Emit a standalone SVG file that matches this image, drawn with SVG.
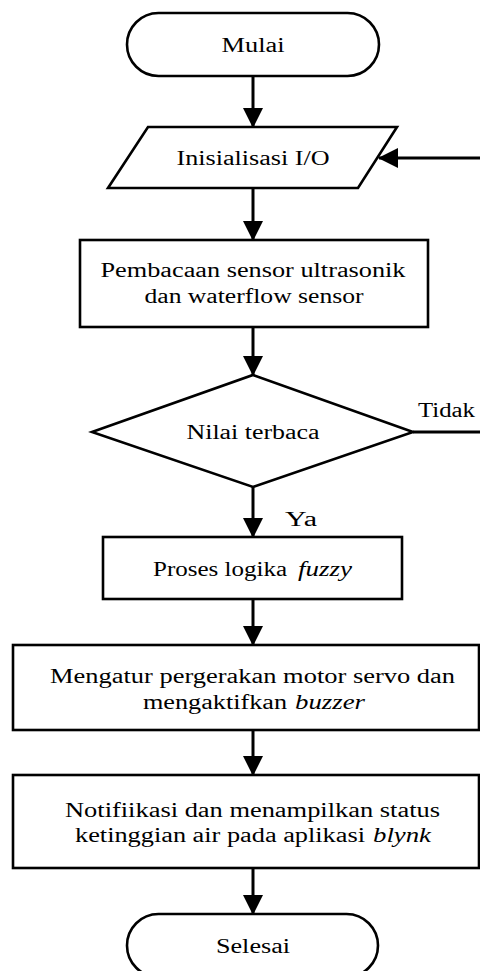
<svg xmlns="http://www.w3.org/2000/svg" width="480" height="971" viewBox="0 0 480 971" font-family="'Liberation Serif', 'Times New Roman', Times, serif">
<style>
.s{fill:#fff;stroke:#000;stroke-width:2.6}
.c{fill:none;stroke:#000;stroke-width:3}
text{font-family:'Liberation Serif','Times New Roman',Times,serif;font-size:20px;fill:#000}
.m{text-anchor:middle}
.i{font-style:italic}
</style>
<defs>
<marker id="ah" markerUnits="userSpaceOnUse" markerWidth="20" markerHeight="20" refX="19" refY="10" orient="auto">
<path d="M0,0 L20,10 L0,20 z" fill="#000"/>
</marker>
</defs>
<rect width="480" height="971" fill="#fff"/>
<g id="connectors">
<line class="c" x1="253" y1="76" x2="253" y2="127" marker-end="url(#ah)"/>
<line class="c" x1="253" y1="188" x2="253" y2="240" marker-end="url(#ah)"/>
<line class="c" x1="253" y1="327" x2="253" y2="375" marker-end="url(#ah)"/>
<line class="c" x1="253" y1="487" x2="253" y2="537" marker-end="url(#ah)"/>
<line class="c" x1="253" y1="599" x2="253" y2="645" marker-end="url(#ah)"/>
<line class="c" x1="253" y1="730" x2="253" y2="775" marker-end="url(#ah)"/>
<line class="c" x1="253" y1="868" x2="253" y2="914" marker-end="url(#ah)"/>
<path class="c" d="M413,432 H483 V158 H379" marker-end="url(#ah)"/>
<text x="418" y="417" textLength="57" lengthAdjust="spacingAndGlyphs">Tidak</text>
<text x="285" y="526" textLength="32" lengthAdjust="spacingAndGlyphs">Ya</text>
</g>
<g id="mulai">
<rect class="s" x="127" y="13" width="252" height="63" rx="31.5"/>
<text class="m" x="253" y="52" textLength="63" lengthAdjust="spacingAndGlyphs">Mulai</text>
</g>
<g id="inisialisasi">
<polygon class="s" points="148,127 397,127 358,188 108,188"/>
<text class="m" x="253" y="165" textLength="153" lengthAdjust="spacingAndGlyphs">Inisialisasi I/O</text>
</g>
<g id="pembacaan">
<rect class="s" x="80" y="240" width="348" height="87"/>
<text class="m" x="253" y="277" textLength="305" lengthAdjust="spacingAndGlyphs">Pembacaan sensor ultrasonik</text>
<text class="m" x="254" y="303" textLength="219" lengthAdjust="spacingAndGlyphs">dan waterflow sensor</text>
</g>
<g id="nilai">
<polygon class="s" points="253,375 413,432 253,487 92,432"/>
<text class="m" x="253" y="439" textLength="133" lengthAdjust="spacingAndGlyphs">Nilai terbaca</text>
</g>
<g id="proses">
<rect class="s" x="103" y="537" width="299" height="62"/>
<text y="576"><tspan x="153" textLength="134" lengthAdjust="spacingAndGlyphs">Proses logika</tspan><tspan class="i" x="298" textLength="54" lengthAdjust="spacingAndGlyphs">fuzzy</tspan></text>
</g>
<g id="mengatur">
<rect class="s" x="13" y="645" width="466" height="85"/>
<text class="m" x="252.5" y="683" textLength="405" lengthAdjust="spacingAndGlyphs">Mengatur pergerakan motor servo dan</text>
<text y="709"><tspan x="143" textLength="144" lengthAdjust="spacingAndGlyphs">mengaktifkan</tspan><tspan class="i" x="295" textLength="70" lengthAdjust="spacingAndGlyphs">buzzer</tspan></text>
</g>
<g id="notifikasi">
<rect class="s" x="13" y="775" width="466" height="93"/>
<text class="m" x="252.5" y="817" textLength="375" lengthAdjust="spacingAndGlyphs">Notifiikasi dan menampilkan status</text>
<text y="842"><tspan x="75" textLength="290" lengthAdjust="spacingAndGlyphs">ketinggian air pada aplikasi</tspan><tspan class="i" x="373" textLength="58" lengthAdjust="spacingAndGlyphs">blynk</tspan></text>
</g>
<g id="selesai">
<rect class="s" x="127" y="914" width="251" height="63" rx="31.5"/>
<text class="m" x="253" y="953" textLength="74" lengthAdjust="spacingAndGlyphs">Selesai</text>
</g>
</svg>
